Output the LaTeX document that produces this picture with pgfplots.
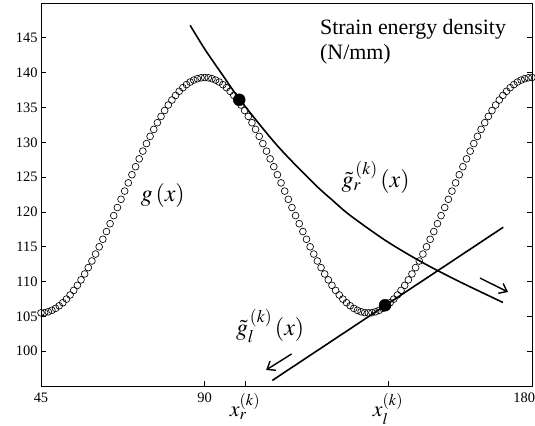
\documentclass[border=0pt]{standalone}
\usepackage{mathptmx}
\usepackage{fontspec}
\setmainfont{Liberation Serif}
\usepackage{pgfplots}
\pgfplotsset{compat=1.18}
\usepackage{pgfplotstable}
\usetikzlibrary{arrows.meta}

% g(x), sampled every degree
\pgfplotstableread{
x y
45 105.50
46 105.54
47 105.66
48 105.87
49 106.15
50 106.52
51 106.96
52 107.48
53 108.07
54 108.73
55 109.45
56 110.24
57 111.09
58 112.00
59 112.95
60 113.95
61 114.99
62 116.07
63 117.18
64 118.31
65 119.47
66 120.63
67 121.81
68 122.99
69 124.17
70 125.34
71 126.49
72 127.62
73 128.73
74 129.81
75 130.85
76 131.85
77 132.81
78 133.71
79 134.56
80 135.35
81 136.07
82 136.73
83 137.32
84 137.84
85 138.28
86 138.65
87 138.93
88 139.13
89 139.26
90 139.30
91 139.26
92 139.13
93 138.93
94 138.65
95 138.28
96 137.84
97 137.32
98 136.73
99 136.07
100 135.35
101 134.56
102 133.71
103 132.81
104 131.85
105 130.85
106 129.81
107 128.73
108 127.62
109 126.49
110 125.34
111 124.17
112 122.99
113 121.81
114 120.63
115 119.47
116 118.31
117 117.18
118 116.07
119 114.99
120 113.95
121 112.95
122 112.00
123 111.09
124 110.24
125 109.45
126 108.73
127 108.07
128 107.48
129 106.96
130 106.52
131 106.15
132 105.87
133 105.66
134 105.54
135 105.50
136 105.54
137 105.66
138 105.87
139 106.15
140 106.52
141 106.96
142 107.48
143 108.07
144 108.73
145 109.45
146 110.24
147 111.09
148 112.00
149 112.95
150 113.95
151 114.99
152 116.07
153 117.18
154 118.31
155 119.47
156 120.63
157 121.81
158 122.99
159 124.17
160 125.34
161 126.49
162 127.62
163 128.73
164 129.81
165 130.85
166 131.85
167 132.81
168 133.71
169 134.56
170 135.35
171 136.07
172 136.73
173 137.32
174 137.84
175 138.28
176 138.65
177 138.93
178 139.13
179 139.26
180 139.30
}\gdata

\begin{document}
\begin{tikzpicture}
\begin{axis}[
  scale only axis,
  width=491bp, height=383bp,
  xmin=45, xmax=180, ymin=95, ymax=150,
  xtick={45,90,101.1,140.4,180},
  xticklabels={45,90,
    {\fontsize{22}{24}\selectfont$x_r^{(k)}$},
    {\fontsize{22}{24}\selectfont$x_l^{(k)}$},
    \makebox[0pt][r]{180\hspace{-3bp}}},
  ytick={100,105,...,145},
  xtick pos=left,
  ytick pos=both,
  tick align=inside,
  major tick length=5bp,
  axis line style={line width=0.9bp},
  every tick/.style={black, line width=0.8bp},
  tick label style={font=\fontsize{14.5}{17}\selectfont},
  xticklabel style={inner sep=1bp, yshift=-6bp},
  /pgf/number format/assume math mode=true,
  clip=false,
]
\addplot[only marks, mark=o, mark size=3.4bp,
  mark options={line width=0.65bp, black}] table {\gdata};

% right-hand approximation
\addplot[black, line width=1.6bp, smooth] coordinates {
  (86,146.8) (90,143.4) (95,139.6) (100,135.9) (110,129.5)
  (120,124.1) (125.3,121.6) (130,119.5) (140,115.8) (150,112.7)
  (160,110.0) (172,107.0)
};
% left-hand approximation
\addplot[black, line width=1.6bp] coordinates {(108.6,95.8) (172.1,117.8)};

% tangency points
\addplot[only marks, mark=*, mark size=6bp, black] coordinates {
  (99.5,136.1) (139.6,106.6)
};

% search directions
\addplot[black, line width=1.4bp, -{Straight Barb[length=7bp,width=11bp]}]
  coordinates {(165.7,110.5) (173.4,108.5)};
\addplot[black, line width=1.4bp, -{Straight Barb[length=7bp,width=11bp]}]
  coordinates {(113.9,99.6) (106.9,97.3)};

\node[font=\fontsize{24}{26}\selectfont] at (axis cs:78.5,122.3) {$g\,(x)$};
\node[font=\fontsize{24}{26}\selectfont] at (axis cs:137.0,125.0)
  {$\tilde{g}_{r}^{\,(k)}\,(x)$};
\node[font=\fontsize{24}{26}\selectfont] at (axis cs:108.0,103.6)
  {$\tilde{g}_{l}^{\,(k)}\,(x)$};
\node[anchor=north west, align=left, inner sep=0pt,
  font=\fontsize{22}{25}\selectfont] at (axis cs:121.7,147.7)
  {Strain energy density\\(N/mm)};
\end{axis}
\pgfresetboundingbox
\path (-41bp,-40bp) rectangle (494bp,386bp);
\end{tikzpicture}
\end{document}
